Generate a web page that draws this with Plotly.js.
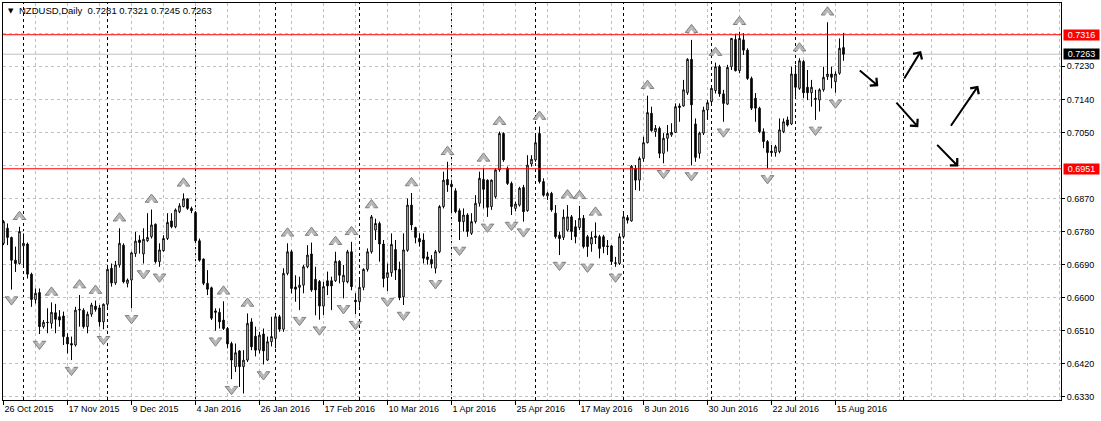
<!DOCTYPE html>
<html><head><meta charset="utf-8">
<script src="https://cdn.plot.ly/plotly-3.0.1.min.js"></script>
<style>html,body{margin:0;padding:0;background:#fff;} #chart{width:1101px;height:421px;}</style>
</head><body><div id="chart"></div>
<script>
const symbolName = 'NZDUSD';
const timeframe = 'Daily';
const dateLabels = ['26 Oct 2015','17 Nov 2015','9 Dec 2015','4 Jan 2016','26 Jan 2016','17 Feb 2016','10 Mar 2016','1 Apr 2016','25 Apr 2016','17 May 2016','8 Jun 2016','30 Jun 2016','22 Jul 2016','15 Aug 2016'];
const labelBars = [0,16,32,48,64,80,96,112,128,144,160,176,192,208];
const monthStartBars = [5,26,48,68,89,112,133,155,177,198,225];

const open = [
0.6748,0.6789,0.6764,0.6702,0.6693,0.6741,0.6746,0.6664,0.6595,0.6614,
0.6521,0.6533,0.6530,0.6559,0.6548,0.6550,0.6492,0.6475,0.6471,0.6566,
0.6566,0.6521,0.6555,0.6577,0.6572,0.6534,0.6582,0.6680,0.6640,0.6689,
0.6743,0.6639,0.6648,0.6720,0.6757,0.6719,0.6755,0.6766,0.6800,0.6698,
0.6728,0.6761,0.6809,0.6793,0.6834,0.6848,0.6869,0.6843,0.6832,0.6755,
0.6705,0.6639,0.6627,0.6564,0.6560,0.6539,0.6516,0.6475,0.6412,0.6455,
0.6412,0.6430,0.6534,0.6495,0.6457,0.6501,0.6430,0.6480,0.6489,0.6548,
0.6514,0.6666,0.6725,0.6629,0.6628,0.6634,0.6684,0.6719,0.6650,0.6644,
0.6577,0.6646,0.6646,0.6646,0.6699,0.6643,0.6643,0.6725,0.6593,0.6589,
0.6628,0.6677,0.6725,0.6784,0.6802,0.6746,0.6655,0.6668,0.6731,0.6677,
0.6602,0.6729,0.6852,0.6791,0.6761,0.6757,0.6711,0.6704,0.6680,0.6725,
0.6848,0.6922,0.6909,0.6891,0.6837,0.6807,0.6825,0.6775,0.6807,0.6857,
0.6922,0.6920,0.6848,0.6875,0.6948,0.7047,0.6952,0.6911,0.6843,0.6852,
0.6900,0.6837,0.6964,0.6975,0.7047,0.6916,0.6877,0.6884,0.6830,0.6770,
0.6764,0.6784,0.6820,0.6793,0.6791,0.6816,0.6766,0.6746,0.6768,0.6766,
0.6766,0.6741,0.6741,0.6693,0.6693,0.6766,0.6818,0.6809,0.6952,0.6920,
0.6979,0.7022,0.7102,0.7052,0.7061,0.6993,0.7034,0.7043,0.7050,0.7122,
0.7122,0.7158,0.7249,0.7073,0.6993,0.7048,0.7111,0.7134,0.7164,0.7229,
0.7155,0.7127,0.7229,0.7303,0.7218,0.7302,0.7274,0.7197,0.7143,0.7116,
0.7052,0.7025,0.6999,0.6995,0.6998,0.7052,0.7084,0.7073,0.7209,0.7170,
0.7243,0.7173,0.7158,0.7143,0.7138,0.7166,0.7202,0.7209,0.7188,0.7211,
0.7281];
const high = [
0.6811,0.6802,0.6766,0.6739,0.6793,0.6775,0.6750,0.6668,0.6625,0.6625,
0.6539,0.6571,0.6587,0.6583,0.6566,0.6562,0.6503,0.6494,0.6575,0.6607,
0.6571,0.6562,0.6586,0.6592,0.6580,0.6584,0.6682,0.6693,0.6700,0.6789,
0.6748,0.6652,0.6725,0.6779,0.6770,0.6789,0.6830,0.6840,0.6802,0.6748,
0.6770,0.6830,0.6830,0.6843,0.6857,0.6884,0.6870,0.6848,0.6834,0.6761,
0.6707,0.6675,0.6630,0.6571,0.6571,0.6590,0.6520,0.6480,0.6475,0.6457,
0.6457,0.6557,0.6544,0.6521,0.6507,0.6516,0.6494,0.6548,0.6557,0.6553,
0.6680,0.6748,0.6730,0.6661,0.6657,0.6689,0.6743,0.6750,0.6684,0.6648,
0.6643,0.6671,0.6657,0.6725,0.6702,0.6689,0.6730,0.6752,0.6612,0.6648,
0.6680,0.6734,0.6825,0.6815,0.6807,0.6757,0.6693,0.6775,0.6757,0.6698,
0.6775,0.6870,0.6885,0.6793,0.6775,0.6775,0.6725,0.6716,0.6730,0.6852,
0.6943,0.6970,0.6920,0.6898,0.6843,0.6843,0.6830,0.6830,0.6879,0.6943,
0.6952,0.6922,0.6922,0.6952,0.7052,0.7050,0.6957,0.6916,0.6861,0.6902,
0.6907,0.6988,0.6988,0.7047,0.7066,0.6925,0.6888,0.6888,0.6852,0.6780,
0.6840,0.6852,0.6825,0.6811,0.6850,0.6825,0.6771,0.6780,0.6805,0.6771,
0.6771,0.6757,0.6743,0.6711,0.6775,0.6830,0.6825,0.6961,0.6961,0.6984,
0.7038,0.7150,0.7120,0.7070,0.7066,0.7048,0.7070,0.7075,0.7129,0.7129,
0.7193,0.7252,0.7302,0.7088,0.7052,0.7120,0.7138,0.7179,0.7240,0.7234,
0.7166,0.7234,0.7306,0.7318,0.7324,0.7320,0.7279,0.7202,0.7157,0.7120,
0.7061,0.7029,0.7016,0.7016,0.7088,0.7088,0.7093,0.7229,0.7234,0.7252,
0.7247,0.7220,0.7193,0.7166,0.7170,0.7229,0.7350,0.7229,0.7216,0.7306,
0.7321];
const low = [
0.6743,0.6743,0.6622,0.6670,0.6690,0.6684,0.6652,0.6575,0.6584,0.6501,
0.6516,0.6503,0.6516,0.6503,0.6521,0.6471,0.6448,0.6430,0.6467,0.6521,
0.6516,0.6503,0.6548,0.6562,0.6521,0.6514,0.6575,0.6630,0.6635,0.6682,
0.6639,0.6628,0.6571,0.6711,0.6720,0.6693,0.6752,0.6761,0.6693,0.6684,
0.6725,0.6757,0.6789,0.6789,0.6830,0.6846,0.6839,0.6830,0.6752,0.6698,
0.6634,0.6607,0.6539,0.6510,0.6516,0.6512,0.6462,0.6378,0.6398,0.6357,
0.6339,0.6425,0.6457,0.6440,0.6448,0.6418,0.6428,0.6467,0.6462,0.6507,
0.6507,0.6661,0.6612,0.6589,0.6566,0.6612,0.6680,0.6616,0.6552,0.6540,
0.6553,0.6607,0.6566,0.6643,0.6639,0.6598,0.6639,0.6620,0.6555,0.6575,
0.6620,0.6671,0.6720,0.6757,0.6698,0.6628,0.6618,0.6657,0.6648,0.6593,
0.6580,0.6725,0.6784,0.6748,0.6739,0.6693,0.6690,0.6680,0.6666,0.6721,
0.6843,0.6888,0.6830,0.6830,0.6757,0.6780,0.6766,0.6771,0.6802,0.6848,
0.6843,0.6820,0.6839,0.6870,0.6943,0.6970,0.6907,0.6825,0.6835,0.6848,
0.6807,0.6834,0.6957,0.6970,0.6911,0.6875,0.6866,0.6834,0.6761,0.6716,
0.6757,0.6780,0.6757,0.6748,0.6784,0.6734,0.6711,0.6725,0.6746,0.6707,
0.6721,0.6716,0.6689,0.6684,0.6689,0.6761,0.6802,0.6807,0.6893,0.6891,
0.6970,0.7020,0.7052,0.7038,0.6980,0.6966,0.6998,0.7038,0.7048,0.7079,
0.7120,0.7152,0.6960,0.6970,0.6979,0.7043,0.7084,0.7129,0.7156,0.7147,
0.7079,0.7125,0.7220,0.7216,0.7211,0.7261,0.7193,0.7111,0.7079,0.7048,
0.7007,0.6952,0.6984,0.6984,0.6993,0.7048,0.7066,0.7070,0.7147,0.7166,
0.7143,0.7138,0.7120,0.7084,0.7107,0.7161,0.7193,0.7170,0.7158,0.7207,
0.7245];
const close = [
0.6807,0.6764,0.6702,0.6693,0.6780,0.6748,0.6664,0.6595,0.6612,0.6521,
0.6533,0.6532,0.6560,0.6541,0.6539,0.6494,0.6474,0.6471,0.6566,0.6568,
0.6521,0.6555,0.6580,0.6568,0.6534,0.6582,0.6677,0.6640,0.6689,0.6748,
0.6643,0.6648,0.6722,0.6754,0.6750,0.6759,0.6764,0.6798,0.6698,0.6730,
0.6761,0.6805,0.6793,0.6839,0.6850,0.6869,0.6843,0.6837,0.6755,0.6702,
0.6639,0.6623,0.6544,0.6560,0.6534,0.6516,0.6474,0.6430,0.6450,0.6412,
0.6430,0.6530,0.6466,0.6457,0.6498,0.6455,0.6480,0.6494,0.6548,0.6514,
0.6666,0.6725,0.6625,0.6623,0.6634,0.6684,0.6716,0.6621,0.6621,0.6577,
0.6630,0.6632,0.6632,0.6699,0.6661,0.6661,0.6725,0.6630,0.6589,0.6628,
0.6677,0.6725,0.6820,0.6802,0.6746,0.6652,0.6668,0.6745,0.6675,0.6600,
0.6730,0.6852,0.6798,0.6764,0.6752,0.6707,0.6704,0.6692,0.6725,0.6848,
0.6920,0.6907,0.6902,0.6834,0.6807,0.6825,0.6780,0.6807,0.6857,0.6925,
0.6895,0.6846,0.6920,0.6948,0.7047,0.6975,0.6911,0.6848,0.6855,0.6898,
0.6834,0.6961,0.6977,0.7022,0.6916,0.6879,0.6884,0.6839,0.6766,0.6761,
0.6819,0.6820,0.6780,0.6766,0.6816,0.6739,0.6739,0.6764,0.6764,0.6734,
0.6739,0.6739,0.6698,0.6695,0.6766,0.6820,0.6811,0.6958,0.6920,0.6979,
0.7022,0.7104,0.7055,0.7061,0.6993,0.7034,0.7047,0.7050,0.7120,0.7118,
0.7166,0.7249,0.7125,0.6982,0.7048,0.7111,0.7131,0.7170,0.7229,0.7155,
0.7129,0.7227,0.7306,0.7218,0.7306,0.7274,0.7197,0.7116,0.7116,0.7052,
0.7025,0.6995,0.6995,0.7011,0.7057,0.7079,0.7070,0.7209,0.7173,0.7245,
0.7158,0.7158,0.7173,0.7140,0.7166,0.7200,0.7209,0.7200,0.7209,0.7279,
0.7263];

const upFractals = [4,12,19,23,29,37,45,55,61,71,77,83,87,92,102,111,120,124,134,141,144,148,161,172,178,184,199,206];
const downFractals = [2,9,17,25,32,35,39,53,57,60,65,74,79,85,88,96,100,108,114,121,127,130,139,146,153,165,172,180,191,203,208];

const levels = [0.7316, 0.6951];
const priceTicks = [0.6330,0.6420,0.6510,0.6600,0.6690,0.6780,0.6870,0.7050,0.7140,0.7230];
const hiddenPriceTicks = [0.6960,0.7320];

// hand-drawn arrows on the chart: [bar, price] start and end
const arrowFrom = [[213.7,0.7222],[224.95,0.7193],[222.9,0.7135],[236.6,0.7064],[233.05,0.7020]];
const arrowTo   = [[218.7,0.7176],[229.4,0.7272],[228.7,0.7064],[243.7,0.7177],[238.7,0.6957]];

// ---------- layout constants ----------
const yRange = [0.63213, 0.74024];
const xRange = [-0.125, 264.375];
const plotH = 397;
const pricePerPx = (yRange[1]-yRange[0]) / plotH;
const fmt = v => v.toFixed(4);
const n = close.length - 1;
const bars = close.map((_, i) => i);

const gridBars = [];
for (let b = 0; b <= 264; b += 8) if (!labelBars.includes(b)) gridBars.push(b);

const FONT = 'Liberation Sans, Arial, sans-serif';

const traces = [
  {
    type: 'candlestick', x: bars, open: open, high: high, low: low, close: close,
    increasing: {line: {color: '#000', width: 1}, fillcolor: '#ffffff'},
    decreasing: {line: {color: '#000', width: 1}, fillcolor: '#000000'},
    whiskerwidth: 0, hoverinfo: 'skip', showlegend: false
  },
  {
    type: 'scatter', mode: 'markers', x: upFractals,
    y: upFractals.map(i => high[i] + 10*pricePerPx),
    marker: {symbol: 'triangle-up', size: 11, color: '#b8b8b8', line: {color: '#7e7e7e', width: 1}},
    hoverinfo: 'skip', showlegend: false
  },
  {
    type: 'scatter', mode: 'markers', x: upFractals,
    y: upFractals.map(i => high[i] + 10*pricePerPx - 2.5*pricePerPx),
    marker: {symbol: 'triangle-up', size: 5, color: '#ffffff', line: {width: 0}},
    hoverinfo: 'skip', showlegend: false
  },
  {
    type: 'scatter', mode: 'markers', x: downFractals,
    y: downFractals.map(i => low[i] - 10*pricePerPx),
    marker: {symbol: 'triangle-down', size: 11, color: '#b8b8b8', line: {color: '#7e7e7e', width: 1}},
    hoverinfo: 'skip', showlegend: false
  },
  {
    type: 'scatter', mode: 'markers', x: downFractals,
    y: downFractals.map(i => low[i] - 10*pricePerPx + 2.5*pricePerPx),
    marker: {symbol: 'triangle-down', size: 5, color: '#ffffff', line: {width: 0}},
    hoverinfo: 'skip', showlegend: false
  }
];

const shapes = [];
monthStartBars.forEach(b => shapes.push({
  type: 'line', xref: 'x', yref: 'paper', x0: b, x1: b, y0: 0, y1: 1,
  line: {color: '#000', width: 1, dash: '3px,3px'}, layer: 'between'
}));
shapes.push({type: 'line', xref: 'paper', yref: 'y', x0: 0, x1: 1, y0: close[n], y1: close[n],
  line: {color: '#c0c0c0', width: 1}, layer: 'between'});
levels.forEach(l => shapes.push({type: 'line', xref: 'paper', yref: 'y', x0: 0, x1: 1, y0: l, y1: l,
  line: {color: '#ff0000', width: 1}, layer: 'above'}));

const annotations = [];
annotations.push({xref: 'paper', yref: 'paper', x: (5.5-3)/1058, y: (400-10.5)/plotH, xanchor: 'left', yanchor: 'middle',
  text: '▼', showarrow: false, font: {family: 'DejaVu Sans', size: 7, color: '#000'}});
annotations.push({xref: 'paper', yref: 'paper', x: (17-3)/1058, y: (400-10)/plotH, xanchor: 'left', yanchor: 'middle',
  text: symbolName + ',' + timeframe + '\u00a0\u00a0' + [open[n], high[n], low[n], close[n]].map(fmt).join(' '),
  showarrow: false, font: {family: FONT, size: 9.5, color: '#000'}});
levels.forEach(l => annotations.push({xref: 'paper', yref: 'y', x: 1, y: l, xanchor: 'left', yanchor: 'middle', xshift: 1.5,
  text: fmt(l), showarrow: false, bgcolor: '#ff0000', width: 35, height: 10, borderpad: 0,
  font: {family: FONT, size: 9, color: '#ffffff'}}));
annotations.push({xref: 'paper', yref: 'y', x: 1, y: close[n], xanchor: 'left', yanchor: 'middle', xshift: 1.5,
  text: fmt(close[n]), showarrow: false, bgcolor: '#000000', width: 35, height: 10, borderpad: 0,
  font: {family: FONT, size: 9, color: '#ffffff'}});
arrowFrom.forEach((a, k) => annotations.push({
  xref: 'x', yref: 'y', axref: 'x', ayref: 'y', x: arrowTo[k][0], y: arrowTo[k][1], ax: a[0], ay: a[1],
  text: '', showarrow: true, arrowhead: 4, arrowsize: 1, arrowwidth: 2, arrowcolor: '#000', standoff: 0
}));

const layout = {
  width: 1101, height: 421,
  margin: {l: 3, r: 40, t: 3, b: 21, pad: 0},
  paper_bgcolor: '#ffffff', plot_bgcolor: '#ffffff',
  showlegend: false, boxgap: 0.45, hovermode: false,
  font: {family: FONT, size: 9, color: '#000'},
  xaxis: {
    type: 'linear', range: xRange, rangeslider: {visible: false}, fixedrange: true,
    tickmode: 'array', tickvals: labelBars, ticktext: dateLabels,
    ticks: 'outside', ticklen: 4, tickwidth: 1, tickcolor: '#000',
    ticklabelposition: 'outside right',
    tickfont: {family: FONT, size: 9, color: '#000'},
    showgrid: true, gridcolor: '#c0c0c0', gridwidth: 1, griddash: '3px,3px',
    minor: {tickmode: 'array', tickvals: gridBars, showgrid: true, gridcolor: '#c0c0c0', gridwidth: 1, griddash: '3px,3px', ticks: ''},
    showline: true, linecolor: '#000', linewidth: 1, mirror: true, zeroline: false
  },
  yaxis: {
    side: 'right', range: yRange, fixedrange: true,
    tickmode: 'array', tickvals: priceTicks, tickformat: '.4f',
    ticks: 'outside', ticklen: 3, tickwidth: 1, tickcolor: '#000',
    tickfont: {family: FONT, size: 9, color: '#000'},
    showgrid: true, gridcolor: '#c0c0c0', gridwidth: 1, griddash: '3px,3px',
    minor: {tickmode: 'array', tickvals: hiddenPriceTicks, showgrid: true, gridcolor: '#c0c0c0', gridwidth: 1, griddash: '3px,3px', ticks: ''},
    showline: true, linecolor: '#000', linewidth: 1, mirror: true, zeroline: false
  },
  shapes: shapes,
  annotations: annotations
};

Plotly.newPlot('chart', traces, layout, {staticPlot: true, displayModeBar: false});
</script>
</body></html>
